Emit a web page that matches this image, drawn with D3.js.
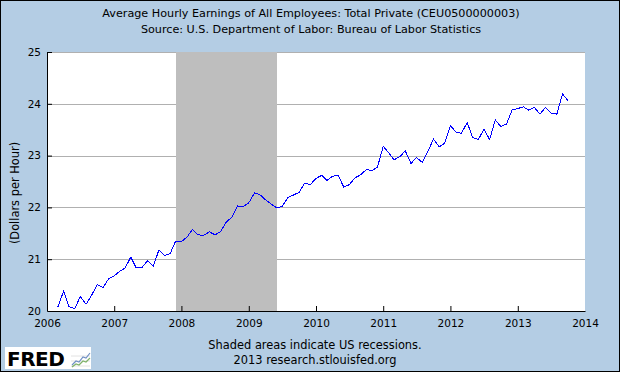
<!DOCTYPE html>
<html>
<head>
<meta charset="utf-8">
<script src="https://cdn.jsdelivr.net/npm/d3@7"></script>
<style>
  html, body { margin: 0; padding: 0; background: #fff; }
  svg { display: block; }
  text { font-family: "DejaVu Sans", Verdana, sans-serif; fill: #000; }
</style>
</head>
<body>
<svg id="chart" width="620" height="372"></svg>
<script>
// Average hourly earnings, total private, not seasonally adjusted ($/hour)
// series starts in March 2006, one value per month
const first_year  = 2006;
const first_month = 3;
const earnings_2006 = [20.08, 20.38, 20.08, 20.05, 20.28, 20.13, 20.31, 20.51, 20.45, 20.62];
const earnings_2007 = [20.68, 20.77, 20.83, 21.04, 20.83, 20.84, 20.97, 20.86, 21.18, 21.07, 21.11, 21.35];
const earnings_2008 = [21.34, 21.43, 21.57, 21.47, 21.46, 21.53, 21.47, 21.53, 21.72, 21.81, 22.03, 22.01];
const earnings_2009 = [22.09, 22.28, 22.25, 22.15, 22.07, 21.99, 22.02, 22.19, 22.24, 22.29, 22.47, 22.44];
const earnings_2010 = [22.56, 22.62, 22.52, 22.60, 22.62, 22.39, 22.44, 22.57, 22.63, 22.73, 22.71, 22.78];
const earnings_2011 = [23.18, 23.05, 22.92, 22.98, 23.09, 22.85, 22.96, 22.87, 23.08, 23.32, 23.17, 23.24];
const earnings_2012 = [23.58, 23.45, 23.43, 23.64, 23.35, 23.31, 23.51, 23.31, 23.69, 23.56, 23.61, 23.88];
const earnings_2013 = [23.91, 23.94, 23.88, 23.93, 23.80, 23.93, 23.82, 23.80, 24.19, 24.06];
const earnings_by_year = [earnings_2006, earnings_2007, earnings_2008, earnings_2009,
                          earnings_2010, earnings_2011, earnings_2012, earnings_2013];

// recession shading (NBER peak / trough months)
const recession_start = [2007, 12];
const recession_end   = [2009, 6];

const year_ticks   = [2006, 2007, 2008, 2009, 2010, 2011, 2012, 2013, 2014];
const dollar_ticks = [20, 21, 22, 23, 24, 25];

const title_lines = ["Average Hourly Earnings of All Employees: Total Private (CEU0500000003)",
                     "Source: U.S. Department of Labor: Bureau of Labor Statistics"];
const note_lines  = ["Shaded areas indicate US recessions.",
                     "2013 research.stlouisfed.org"];
const y_title = "(Dollars per Hour)";

let series = [];
earnings_by_year.forEach((vals, i) => {
	let m0 = i === 0 ? first_month - 1 : 0;
	vals.forEach((v, j) => series.push({date: new Date(first_year + i, m0 + j, 1), value: v}));
});

const width = 620, height = 372;
const plot = {left: 47, right: 585, top: 52, bottom: 311};

const svg = d3.select("#chart");

// page background + frame
svg.append("rect")
	.attr("x", 0.5).attr("y", 0.5)
	.attr("width", width - 1).attr("height", height - 1)
	.attr("fill", "#b4cde4")
	.attr("stroke", "#000");

const x = d3.scaleTime()
	.domain([new Date(year_ticks[0], 0, 1), new Date(year_ticks[year_ticks.length - 1], 0, 1)])
	.range([plot.left, plot.right]);
const y = d3.scaleLinear()
	.domain([dollar_ticks[0], dollar_ticks[dollar_ticks.length - 1]])
	.range([plot.bottom, plot.top]);

svg.append("rect")
	.attr("x", plot.left).attr("y", plot.top)
	.attr("width", plot.right - plot.left).attr("height", plot.bottom - plot.top)
	.attr("fill", "#fff");

// horizontal grid
svg.append("g")
	.selectAll("line")
	.data(dollar_ticks.slice(1))
	.join("line")
	.attr("x1", plot.left).attr("x2", plot.right)
	.attr("y1", d => Math.round(y(d)) + 0.5)
	.attr("y2", d => Math.round(y(d)) + 0.5)
	.attr("stroke", "#b0b0b0");

// recession band
let r0 = x(new Date(recession_start[0], recession_start[1] - 1, 1));
let r1 = x(new Date(recession_end[0], recession_end[1] - 1, 1));
svg.append("rect")
	.attr("x", Math.round(r0)).attr("y", plot.top)
	.attr("width", Math.round(r1) - Math.round(r0))
	.attr("height", plot.bottom - plot.top)
	.attr("fill", "#bebebe");

// data line
const line = d3.line()
	.x(d => x(d.date))
	.y(d => y(d.value));
svg.append("path")
	.datum(series)
	.attr("d", line)
	.attr("fill", "none")
	.attr("stroke", "#0000ff")
	.attr("stroke-width", 1)
	.attr("shape-rendering", "crispEdges");

// axes, ticks point into the plot
const y_axis = d3.axisLeft(y)
	.tickValues(dollar_ticks)
	.tickFormat(d3.format("d"))
	.tickSizeInner(-5)
	.tickSizeOuter(0)
	.tickPadding(6);
const g_y = svg.append("g")
	.attr("transform", `translate(${plot.left},0)`)
	.call(y_axis);

const x_axis = d3.axisBottom(x)
	.tickValues(year_ticks.map(yr => new Date(yr, 0, 1)))
	.tickFormat(d3.timeFormat("%Y"))
	.tickSizeInner(-5)
	.tickSizeOuter(0)
	.tickPadding(9);
const g_x = svg.append("g")
	.attr("transform", `translate(0,${plot.bottom})`)
	.call(x_axis);

[g_x, g_y].forEach(g => {
	g.select(".domain").attr("stroke", "#000");
	g.selectAll(".tick line").attr("stroke", "#000");
	g.selectAll(".tick text")
		.attr("fill", "#000")
		.style("font-family", "DejaVu Sans")
		.style("font-size", "10.5px");
});
// no tick marks at the corners
g_x.selectAll(".tick line").filter((d, i) => i === 0 || i === year_ticks.length - 1).remove();
g_y.selectAll(".tick line").filter((d, i) => i === 0).remove();

// titles
svg.append("g")
	.selectAll("text")
	.data(title_lines)
	.join("text")
	.attr("x", 311)
	.attr("y", (d, i) => 17 + i * 16)
	.attr("text-anchor", "middle")
	.style("font-size", "11.2px")
	.text(d => d);

svg.append("text")
	.attr("transform", "translate(19,193) rotate(-90)")
	.attr("text-anchor", "middle")
	.style("font-size", "11.4px")
	.text(y_title);

svg.append("g")
	.selectAll("text")
	.data(note_lines)
	.join("text")
	.attr("x", 315)
	.attr("y", (d, i) => 349 + i * 15)
	.attr("text-anchor", "middle")
	.style("font-size", "11.4px")
	.text(d => d);

// FRED logo
const logo = svg.append("g").attr("transform", "translate(5,347)");
logo.append("rect").attr("width", 86).attr("height", 22).attr("fill", "#fff");
logo.append("text")
	.attr("x", 2).attr("y", 18.5)
	.style("font-family", "DejaVu Sans")
	.style("font-weight", "bold")
	.style("font-size", "20px")
	.style("letter-spacing", "-0.5px")
	.text("FRED");
const icon = logo.append("g").attr("transform", "translate(66,3)");
icon.append("path")
	.attr("d", "M0,16H19M0,11H19M0,6H19")
	.attr("stroke", "#e2e2e2").attr("stroke-width", 1);
icon.append("path")
	.attr("d", "M1,15L5,11L8,12L12,7L15,8L19,3")
	.attr("fill", "none").attr("stroke", "#6f8fc4").attr("stroke-width", 1.2);
icon.append("path")
	.attr("d", "M1,17L5,14L8,15L12,11L15,12L19,8")
	.attr("fill", "none").attr("stroke", "#7fb26a").attr("stroke-width", 1.2);
</script>
</body>
</html>
